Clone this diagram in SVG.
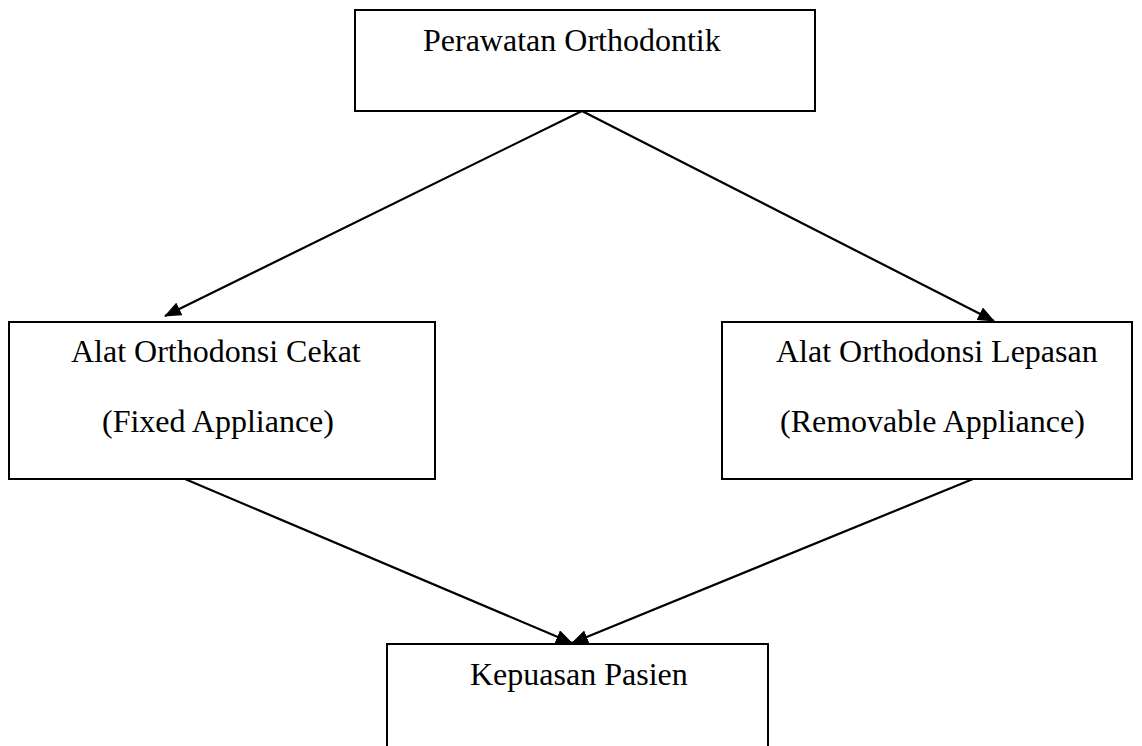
<svg xmlns="http://www.w3.org/2000/svg" width="1142" height="746" viewBox="0 0 1142 746">
<style>
.box{fill:#fff;stroke:#000;stroke-width:2}
.t{font-family:"Liberation Serif","Times New Roman",serif;font-size:32px;fill:#000}
.c{stroke:#000;stroke-width:2.2;fill:none;marker-end:url(#ah)}
</style>
<defs>
<marker id="ah" markerUnits="userSpaceOnUse" markerWidth="18" markerHeight="14" refX="16" refY="7" orient="auto">
<path d="M0,0 L17,7 L0,14 Z" fill="#000"/>
</marker>
</defs>
<rect width="1142" height="746" fill="#fff"/>
<g id="n1">
<rect class="box" x="355" y="10" width="460" height="101"/>
<text class="t" x="423" y="51">Perawatan Orthodontik</text>
</g>
<g id="n2">
<rect class="box" x="9" y="322" width="426" height="157"/>
<text class="t" x="71" y="362">Alat Orthodonsi Cekat</text>
<text class="t" x="102" y="432">(Fixed Appliance)</text>
</g>
<g id="n3">
<rect class="box" x="722" y="322" width="410" height="157"/>
<text class="t" x="776" y="362">Alat Orthodonsi Lepasan</text>
<text class="t" x="780" y="432">(Removable Appliance)</text>
</g>
<g id="n4">
<rect class="box" x="387" y="644" width="381" height="120"/>
<text class="t" x="470" y="685">Kepuasan Pasien</text>
</g>
<g id="connectors">
<line class="c" x1="582" y1="111" x2="165" y2="316"/>
<line class="c" x1="582" y1="111" x2="994" y2="321"/>
<line class="c" x1="185" y1="479" x2="572" y2="643"/>
<line class="c" x1="973" y1="479" x2="572" y2="643"/>
</g>
</svg>
